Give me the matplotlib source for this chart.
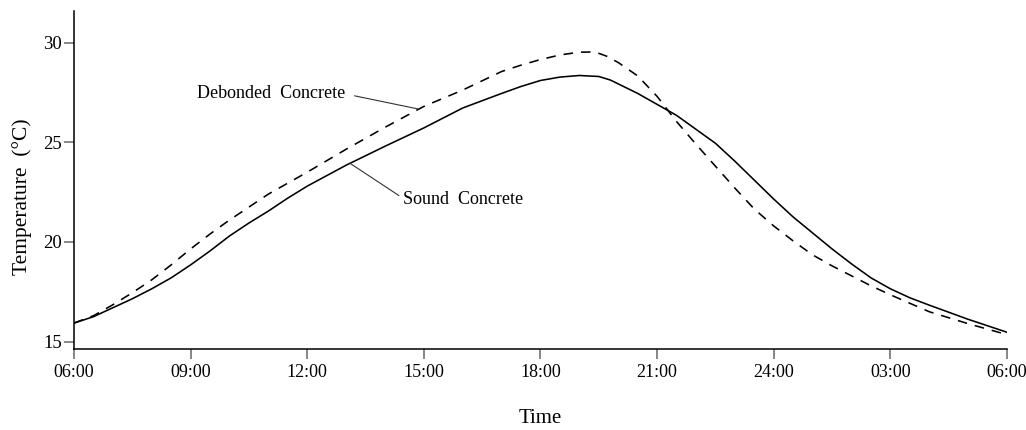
import numpy as np
import matplotlib
matplotlib.use("Agg")
import matplotlib.pyplot as plt

plt.rcParams['font.family'] = ['Liberation Serif', 'DejaVu Serif']

# hours elapsed since 06:00
hours = [0, 0.5, 1, 1.5, 2, 2.5, 3, 3.5, 4, 4.5, 5, 5.5, 6, 7, 8, 9, 10, 11, 11.5, 12, 12.5, 13,
         13.5, 13.8, 14.5, 15, 15.5, 16, 16.5, 17, 17.5, 18, 18.5, 19, 19.5, 20, 20.5, 21, 21.5,
         22, 23, 24]
sound = [15.93, 16.25, 16.7, 17.15, 17.65, 18.2, 18.85, 19.55, 20.3, 20.95, 21.55, 22.2, 22.8,
         23.85, 24.8, 25.72, 26.72, 27.45, 27.8, 28.1, 28.27, 28.35,
         28.3, 28.12, 27.45, 26.9, 26.35, 25.65, 24.95, 24.05, 23.1, 22.15, 21.25, 20.45, 19.65,
         18.9, 18.2, 17.65, 17.2, 16.83, 16.12, 15.47]

hours_d = [0, 0.5, 1, 1.5, 2, 2.5, 3, 3.5, 4, 4.5, 5, 5.5, 6, 7, 8, 9, 10, 11, 11.5, 12, 12.5, 13,
           13.4, 13.7, 14, 14.5, 15, 15.5, 16, 16.5, 17, 17.5, 18, 18.5, 19, 19.5, 20, 20.5, 21,
           22, 23, 24]
debonded = [15.93, 16.3, 16.85, 17.45, 18.1, 18.85, 19.65, 20.4, 21.1, 21.75, 22.4, 22.95, 23.5,
            24.65, 25.75, 26.8, 27.62, 28.55, 28.87, 29.15, 29.38, 29.52,
            29.53, 29.32, 29.0, 28.33, 27.3, 26.04, 24.9, 23.8, 22.7, 21.65, 20.8, 20.05, 19.35,
            18.8, 18.3, 17.8, 17.35, 16.5, 15.9, 15.35]

xtick_pos = [0, 3, 6, 9, 12, 15, 18, 21, 24]
xtick_labels = ['06:00', '09:00', '12:00', '15:00', '18:00', '21:00', '24:00', '03:00', '06:00']
ytick_pos = [15, 20, 25, 30]

fig = plt.figure(figsize=(10.26, 4.30), dpi=100)
ax = fig.add_axes([74 / 1026, 1 - 349 / 430, 933 / 1026, 338.3 / 430])

ax.plot(hours, sound, color='black', lw=1.15, solid_joinstyle='round')
ax.plot(hours_d, debonded, color='black', lw=1.15, linestyle=(0, (6, 5)))

ax.set_xlim(0, 24)
ax.set_ylim(14.63, 31.6)
ax.set_xticks(xtick_pos)
ax.set_xticklabels(xtick_labels)
ax.set_yticks(ytick_pos)

for s in ['top', 'right']:
    ax.spines[s].set_visible(False)
for s in ['left', 'bottom']:
    ax.spines[s].set_linewidth(1.1)
    ax.spines[s].set_color('black')

ax.tick_params(axis='x', direction='out', length=7, width=1.1, color='#666666',
               labelsize=13, pad=4)
ax.tick_params(axis='y', direction='out', length=7, width=1.1, color='#666666',
               labelsize=13.5, pad=1.5)

ax.set_xlabel('Time', fontsize=15)
ax.xaxis.set_label_coords(0.5, -0.178)
ax.set_ylabel('Temperature  (°C)', fontsize=15.5)
ax.yaxis.label.set_va('center')
ax.yaxis.set_label_coords(-0.056, 0.45)

# annotations with leader lines to the curves
hd = 8.87
ax.annotate('Debonded  Concrete', xy=(hd, np.interp(hd, hours_d, debonded)),
            xytext=(6.97, 27.43), ha='right', va='center', fontsize=13,
            arrowprops=dict(arrowstyle='-', color='#333333', lw=0.8,
                            shrinkA=5, shrinkB=0, relpos=(1, 0.5)))
hs = 7.1
ax.annotate('Sound  Concrete', xy=(hs, np.interp(hs, hours, sound)),
            xytext=(8.46, 22.11), ha='left', va='center', fontsize=13,
            arrowprops=dict(arrowstyle='-', color='#333333', lw=0.8,
                            shrinkA=1, shrinkB=0, relpos=(0, 0.6)))

fig.savefig('out.png', dpi=100)
